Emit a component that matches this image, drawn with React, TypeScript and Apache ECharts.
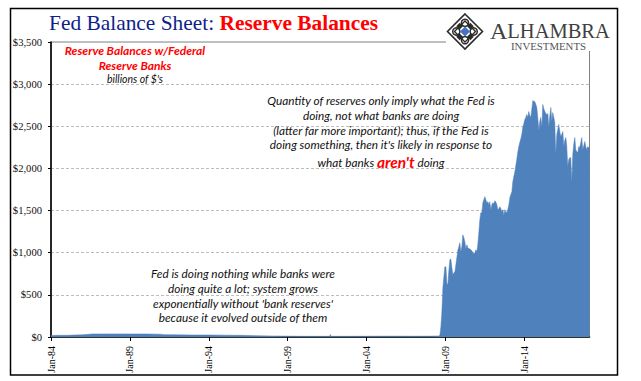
import React, { useEffect, useRef } from "react";
import * as echarts from "echarts";

// years since Jan-1984
const earlyYears = [0, 0.5, 1, 1.5, 2, 2.6, 3, 4, 5, 6, 6.9, 7.2, 8, 9, 10, 11, 12, 13, 14, 15, 16, 17, 17.67, 17.7, 17.75, 18, 19, 20, 21, 22, 23, 24, 24.59];
const earlyValues = [18, 20, 20, 24, 26, 36, 37, 37, 37, 36, 34, 28, 26, 24, 24, 22, 20, 16, 12, 10, 8, 8, 8, 30, 8, 8, 8, 9, 10, 10, 9, 10, 12];
const lateYears = [24.65, 24.71, 24.77, 24.84, 24.90, 24.96, 25.03, 25.09, 25.15, 25.22, 25.28, 25.34, 25.41, 25.47, 25.53, 25.60, 25.66, 25.72, 25.79, 25.85, 25.91, 25.98, 26.04, 26.10, 26.17, 26.23, 26.29, 26.36, 26.42, 26.48, 26.55, 26.61, 26.67, 26.74, 26.80, 26.86, 26.93, 26.99, 27.05, 27.12, 27.18, 27.24, 27.31, 27.37, 27.43, 27.50, 27.56, 27.62, 27.69, 27.75, 27.81, 27.88, 27.94, 28.00, 28.07, 28.13, 28.19, 28.26, 28.32, 28.38, 28.45, 28.51, 28.57, 28.64, 28.70, 28.76, 28.83, 28.89, 28.95, 29.02, 29.08, 29.14, 29.21, 29.27, 29.33, 29.40, 29.46, 29.52, 29.59, 29.65, 29.71, 29.78, 29.84, 29.90, 29.97, 30.03, 30.09, 30.16, 30.22, 30.28, 30.35, 30.41, 30.47, 30.54, 30.60, 30.66, 30.73, 30.79, 30.85, 30.92, 30.98, 31.04, 31.11, 31.17, 31.23, 31.30, 31.36, 31.42, 31.49, 31.55, 31.61, 31.68, 31.74, 31.80, 31.87, 31.93, 31.99, 32.06, 32.12, 32.18, 32.25, 32.31, 32.37, 32.44, 32.50, 32.56, 32.63, 32.69, 32.75, 32.82, 32.88, 32.94, 33.01, 33.07, 33.13, 33.20, 33.26, 33.32, 33.39, 33.45, 33.51, 33.58, 33.64, 33.70, 33.77, 33.83, 33.89, 33.96, 34.02, 34.08, 34.13];
const lateValues = [25, 119, 285, 595, 713, 832, 832, 642, 618, 797, 915, 927, 820, 737, 761, 773, 856, 939, 1034, 1070, 1118, 1011, 1070, 1213, 1177, 1130, 1046, 1094, 1058, 1046, 1046, 1034, 1023, 999, 987, 999, 1034, 1011, 1094, 1248, 1391, 1474, 1474, 1593, 1629, 1665, 1629, 1593, 1605, 1569, 1605, 1510, 1569, 1593, 1581, 1617, 1605, 1569, 1510, 1522, 1546, 1522, 1486, 1510, 1439, 1510, 1486, 1474, 1510, 1569, 1653, 1688, 1724, 1843, 1902, 1962, 2033, 2105, 2200, 2259, 2307, 2354, 2402, 2485, 2533, 2580, 2604, 2640, 2604, 2675, 2628, 2604, 2699, 2806, 2794, 2794, 2758, 2723, 2604, 2449, 2556, 2604, 2485, 2758, 2711, 2675, 2651, 2640, 2651, 2485, 2616, 2723, 2556, 2663, 2604, 2544, 2164, 2402, 2461, 2521, 2437, 2378, 2402, 2437, 2259, 2330, 2366, 2259, 2021, 2105, 2128, 2128, 1843, 2164, 2283, 2366, 2223, 2200, 2188, 2259, 2247, 2307, 2366, 2223, 2271, 2319, 2259, 2223, 2259, 2247, 2247];
const xTickYears = [0, 5, 10, 15, 20, 25, 30];
const titleLeft = "Fed Balance Sheet: ";
const titleRight = "Reserve Balances";
const noteTop = ["Quantity of reserves only imply what the Fed is", "doing, not what banks are doing", "(latter far more important); thus, if the Fed is", "doing something, then it's likely in response to"];
const noteBottom = ["Fed is doing nothing while banks were", "doing quite a lot; system grows", "exponentially without 'bank reserves'", "because it evolved outside of them"];

const SANS = "Lato, Carlito, sans-serif";
const SERIF = "'Liberation Serif', serif";

function centered(text: string, x: number, y: number, extra: any = {}) {
  return {
    type: "text", x, y, z: 20,
    style: { text, fontFamily: SANS, fontStyle: "italic", fontSize: 11.8, fill: "#111", align: "center", verticalAlign: "middle", ...extra },
  };
}

function diamond(cx: number, cy: number, r: number, style: any) {
  return { type: "polygon", z: 31, shape: { points: [[cx, cy - r], [cx + r, cy], [cx, cy + r], [cx - r, cy]] }, style };
}

function logo() {
  const cx = 465, cy = 31.5;
  const ink = { fill: "none", stroke: "#2a2a2a", lineWidth: 1.6 };
  const items: any[] = [diamond(cx, cy, 17.5, ink), diamond(cx, cy, 10.5, { ...ink, lineWidth: 1.4 })];
  const off = 8.7;
  [[0, -off], [off, 0], [0, off], [-off, 0]].forEach(([dx, dy]) => {
    items.push({ type: "circle", z: 31, shape: { cx: cx + dx, cy: cy + dy, r: 3.6 }, style: { ...ink, lineWidth: 1.5 } });
  });
  [[off / 2 + 1, -off / 2 - 1], [off / 2 + 1, off / 2 + 1], [-off / 2 - 1, off / 2 + 1], [-off / 2 - 1, -off / 2 - 1]].forEach(([dx, dy]) => {
    items.push(diamond(cx + dx, cy + dy, 3.4, { fill: "#2a2a2a" }));
  });
  items.push(diamond(cx, cy, 5, { fill: "#4472C4" }));
  return items;
}

export default function App() {
  const ref = useRef<HTMLDivElement>(null);
  useEffect(() => {
    document.body.style.margin = "0";
    const chart = echarts.init(ref.current!, undefined, { renderer: "svg" });
    const years = [...earlyYears, ...lateYears];
    const values = [...earlyValues, ...lateValues];
    chart.setOption({
      animation: false,
      backgroundColor: "#fff",
      grid: { left: 51, right: 51.5, top: 42, bottom: 44, show: true, borderColor: "#808080", borderWidth: 1, backgroundColor: "transparent" },
      xAxis: {
        type: "value", min: 0, max: 34.13, interval: 5,
        axisLine: { show: true, onZero: false, lineStyle: { color: "#000", width: 1.6 } },
        axisTick: { show: true, length: 4, customValues: xTickYears, lineStyle: { color: "#000" } },
        splitLine: { show: false },
        axisLabel: {
          rotate: 90, margin: 9, color: "#000", fontFamily: SERIF, fontSize: 10,
          customValues: xTickYears,
          formatter: (v: number) => "Jan-" + String((84 + v) % 100).padStart(2, "0"),
        },
      },
      yAxis: {
        type: "value", min: 0, max: 3500, interval: 500,
        axisLine: { show: true, lineStyle: { color: "#000", width: 1.6 } },
        axisTick: { show: true, length: 3, lineStyle: { color: "#000" } },
        splitLine: { show: true, lineStyle: { color: "#BDBDBD", type: [3, 2], width: 1 } },
        axisLabel: {
          margin: 9, color: "#111", fontFamily: SERIF, fontSize: 10.6,
          formatter: (v: number) => "$" + v.toLocaleString("en-US"),
        },
      },
      series: [{
        type: "line", showSymbol: false, smooth: false,
        data: years.map((y, i) => [y, values[i]]),
        lineStyle: { width: 0.5, color: "#4F81BD" },
        areaStyle: { color: "#4F81BD", opacity: 1 },
        itemStyle: { color: "#4F81BD" },
        z: 3,
      }],
      graphic: [
        { type: "rect", z: 25, shape: { x: 446, y: 11, width: 169, height: 40 }, style: { fill: "#fff" } },
        { type: "rect", z: 40, shape: { x: 10.5, y: 8.5, width: 607, height: 366.5 }, style: { fill: "none", stroke: "#000", lineWidth: 1.5 } },
        {
          type: "text", x: 49, y: 23, z: 30,
          style: {
            text: "{a|" + titleLeft + "}{b|" + titleRight + "}",
            verticalAlign: "middle",
            rich: {
              a: { fontFamily: SERIF, fontSize: 21.4, fill: "#0F1F8A" },
              b: { fontFamily: SERIF, fontSize: 21.4, fontWeight: "bold", fill: "#FF0000" },
            },
          },
        },
        centered("Reserve Balances w/Federal", 135, 50, { fill: "#FF0000", fontWeight: "bold", fontSize: 12 }),
        centered("Reserve Banks", 135, 65, { fill: "#FF0000", fontWeight: "bold", fontSize: 12 }),
        centered("billions of $'s", 135, 79, { fontSize: 10.5 }),
        ...noteTop.map((t, i) => centered(t, 381, [100, 115, 130, 144][i])),
        {
          type: "text", x: 381, y: 162, z: 20,
          style: {
            text: "{a|what banks }{b|aren't}{a| doing}",
            align: "center", verticalAlign: "middle",
            rich: {
              a: { fontFamily: SANS, fontStyle: "italic", fontSize: 11.8, fill: "#111" },
              b: { fontFamily: SANS, fontStyle: "italic", fontWeight: "bold", fontSize: 15.5, fill: "#FF0000" },
            },
          },
        },
        ...noteBottom.map((t, i) => centered(t, 243, [273, 288, 303, 317][i])),
        ...logo(),
        {
          type: "text", x: 490, y: 30.5, z: 31,
          style: {
            text: "{a|A}{b|LHAMBRA}", verticalAlign: "middle",
            rich: {
              a: { fontFamily: SERIF, fontSize: 24, lineHeight: 18, fill: "#404040" },
              b: { fontFamily: SERIF, fontSize: 20.5, lineHeight: 18, fill: "#404040" },
            },
          },
        },
        {
          type: "text", x: 548.5, y: 46, z: 31,
          style: { text: "INVESTMENTS", fontFamily: SERIF, fontSize: 10.8, lineHeight: 9, fill: "#555", align: "center", verticalAlign: "middle" },
        },
      ],
    });
    return () => chart.dispose();
  }, []);
  return <div ref={ref} style={{ width: 641, height: 381, overflow: "hidden" }} />;
}
